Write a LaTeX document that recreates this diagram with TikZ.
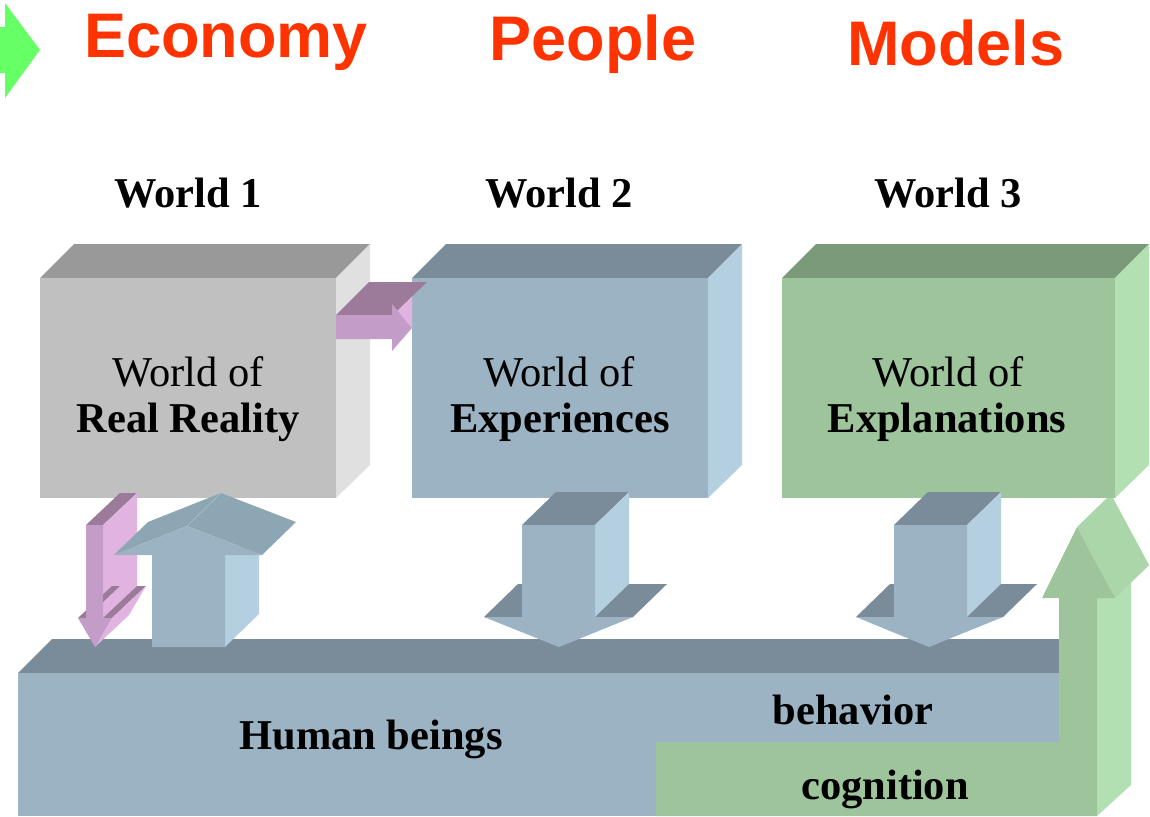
\documentclass[tikz,border=0pt]{standalone}
\usepackage{fontspec}
\setmainfont{Liberation Serif}
\newfontfamily\titlefont{Liberation Sans}
\definecolor{tred}{HTML}{FF3300}
\definecolor{garrow}{HTML}{66FF66}
\definecolor{greyfront}{HTML}{C0C0C0}
\definecolor{greytop}{HTML}{999999}
\definecolor{greyside}{HTML}{E0E0E0}
\definecolor{bluefront}{HTML}{9CB3C4}
\definecolor{bluetop}{HTML}{7A8B99}
\definecolor{blueside}{HTML}{B3CFE0}
\definecolor{bluehead}{HTML}{8CA6B3}
\definecolor{greenfront}{HTML}{9EC49C}
\definecolor{greentop}{HTML}{7A9A7A}
\definecolor{greenside}{HTML}{B3E0B3}
\definecolor{greenhead}{HTML}{AAD6AA}
\definecolor{pinkfront}{HTML}{C49CC8}
\definecolor{pinktop}{HTML}{9C7A99}
\definecolor{pinkside}{HTML}{E0B3E0}
\tikzset{
  titletext/.style={text=tred,inner sep=0pt,anchor=base,font=\titlefont\bfseries\fontsize{63}{63}\selectfont},
  worldtext/.style={inner sep=0pt,anchor=base,font=\bfseries\fontsize{42.5}{42.5}\selectfont},
  plaintext/.style={inner sep=0pt,anchor=base,font=\fontsize{42.5}{42.5}\selectfont},
  face/.style={draw=none}
}
\begin{document}
\begin{tikzpicture}[x=1pt,y=-1pt]
\useasboundingbox (0,0) rectangle (1150,816);
% top-left green arrow
\fill[garrow] (0,27) -- (5,27) -- (5,3) -- (40,50) -- (5,98) -- (5,73) -- (0,73) -- cycle;
% titles
\node[titletext] (economy) at (226,58) {Economy};
\node[titletext] (people) at (593,60) {People};
\node[titletext] (models) at (956,65) {Models};
% world labels
\node[worldtext] (w1) at (188,207) {World 1};
\node[worldtext] (w2) at (559,207) {World 2};
\node[worldtext] (w3) at (948,207) {World 3};
% box 1 grey
\fill[greytop] (40,278) -- (74,244) -- (370,244) -- (336,278) -- cycle;
\fill[greyside] (336,278) -- (370,244) -- (370,465) -- (336,498) -- cycle;
\fill[greyfront] (40,278) rectangle (336,498);
% box 2 blue
\fill[bluetop] (412,278) -- (446,244) -- (742,244) -- (708,278) -- cycle;
\fill[blueside] (708,278) -- (742,244) -- (742,465) -- (708,498) -- cycle;
\fill[bluefront] (412,278) rectangle (708,498);
% box 3 green
\fill[greentop] (782,278) -- (816,244) -- (1149,244) -- (1115,278) -- cycle;
\fill[greenside] (1115,278) -- (1149,244) -- (1149,465) -- (1115,498) -- cycle;
\fill[greenfront] (782,278) rectangle (1115,498);
% box texts
\node[plaintext] (b1a) at (188,386) {World of};
\node[worldtext] (b1b) at (188,432) {Real Reality};
\node[plaintext] (b2a) at (559,386) {World of};
\node[worldtext] (b2b) at (560,432) {Experiences};
\node[plaintext] (b3a) at (948,386) {World of};
\node[worldtext] (b3b) at (947,432) {Explanations};
% pink right arrow
\fill[pinkside] (392,304) -- (399,309) -- (412,297) -- (412,328) -- cycle;
\fill[pinktop] (336,315) -- (369,282) -- (427,282) -- (399,309) -- (392,315) -- cycle;
\fill[pinkfront] (336,315) -- (392,315) -- (392,304) -- (412,328) -- (392,351) -- (392,339) -- (336,339) -- cycle;
% human beings box
\fill[bluetop] (18,673) -- (52,639) -- (1059,639) -- (1059,673) -- cycle;
\fill[bluefront] (18,673) rectangle (1059,816);
% pink down arrow
\fill[pinktop] (86,525) -- (103,525) -- (137,493) -- (120,493) -- cycle;
\fill[pinkside] (103,525) -- (137,493) -- (137,586) -- (103,618) -- cycle;
\fill[pinktop] (78,618) -- (86,618) -- (120,586) -- (112,586) -- cycle;
\fill[pinktop] (103,618) -- (112,618) -- (146,586) -- (137,586) -- cycle;
\fill[pinkside] (112,618) -- (146,586) -- (129,615) -- (95,647) -- cycle;
\fill[pinkfront] (86,525) -- (103,525) -- (103,618) -- (112,618) -- (95,647) -- (78,618) -- (86,618) -- cycle;
% blue up arrow
\fill[blueside] (225,555) -- (259,522) -- (259,614) -- (225,647) -- cycle;
\fill[bluehead] (114,555) -- (148,522) -- (221,493) -- (187,526) -- cycle;
\fill[bluehead] (187,526) -- (221,493) -- (296,522) -- (262,555) -- cycle;
\draw[blueside!70!bluehead,line width=0.5pt] (187,526) -- (221,493);
\fill[bluefront] (152,647) -- (152,555) -- (114,555) -- (187,526) -- (262,555) -- (225,555) -- (225,647) -- cycle;
% blue down arrow 1
\fill[bluetop] (522,525) -- (595,525) -- (629,492) -- (556,492) -- cycle;
\fill[blueside] (595,525) -- (629,492) -- (629,584) -- (595,617) -- cycle;
\fill[bluetop] (595,617) -- (633,617) -- (667,584) -- (629,584) -- cycle;
\fill[bluetop] (484,617) -- (522,617) -- (556,584) -- (518,584) -- cycle;
\fill[bluefront] (522,525) -- (595,525) -- (595,617) -- (633,617) -- (559,647) -- (484,617) -- (522,617) -- cycle;
% blue down arrow 2
\fill[bluetop] (894,525) -- (967,525) -- (1001,492) -- (928,492) -- cycle;
\fill[blueside] (967,525) -- (1001,492) -- (1001,584) -- (967,617) -- cycle;
\fill[bluetop] (967,617) -- (1003,617) -- (1037,584) -- (1001,584) -- cycle;
\fill[bluetop] (856,617) -- (894,617) -- (928,584) -- (890,584) -- cycle;
\fill[bluefront] (894,525) -- (967,525) -- (967,617) -- (1003,617) -- (929,647) -- (856,617) -- (894,617) -- cycle;
% green L arrow
\fill[greenside] (1097,598) -- (1131,565) -- (1131,785) -- (1097,816) -- cycle;
\fill[greenhead] (1097,598) -- (1115,598) -- (1149,565) -- (1131,565) -- cycle;
\fill[greenhead] (1077,527) -- (1115,598) -- (1149,565) -- (1113,498) -- (1107,498) -- cycle;
\fill[greenfront] (656,742) -- (1059,742) -- (1059,598) -- (1042,598) -- (1077,527) -- (1115,598) -- (1097,598) -- (1097,816) -- (656,816) -- cycle;
% bottom texts
\node[worldtext] (human) at (371,749) {Human beings};
\node[worldtext] (behav) at (853,724) {behavior};
\node[worldtext] (cogn) at (885,799) {cognition};
\end{tikzpicture}
\end{document}
